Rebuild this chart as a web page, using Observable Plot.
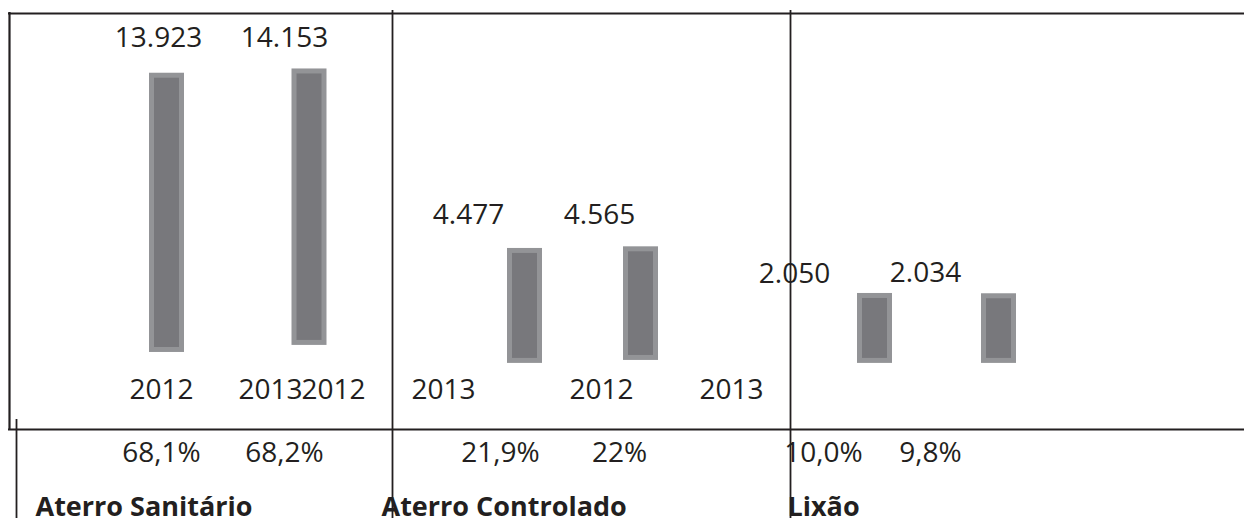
<!DOCTYPE html>
<html><head><meta charset="utf-8">
<script src="https://cdn.jsdelivr.net/npm/d3@7"></script>
<script src="https://cdn.jsdelivr.net/npm/@observablehq/plot@0.6"></script>
<style>html,body{margin:0;padding:0;background:#fff}svg{display:block}</style>
</head><body><div id="chart"></div>
<script>
// ---- data ----
const categories = ["Aterro Sanitário", "Aterro Controlado", "Lixão"];
const years = ["2012", "2013"];
const tonnesPerDay = [13923, 14153, 4477, 4565, 2050, 2034];      // category × year
const valueLabels = ["13.923", "14.153", "4.477", "4.565", "2.050", "2.034"];
const shareLabels = ["68,1%", "68,2%", "21,9%", "22%", "10,0%", "9,8%"];
const yearTickLabels = ["2012", "2013", "2012", "2013", "2012", "2013"];
const barBase = [-1130, -750, -1720, -1560, -1720, -1720];        // lower end of each drawn bar

// ---- layout (horizontal slots, in pixels of the x scale) ----
const W = 1244, H = 518;
const barX = [166.5, 309, 524.5, 640.5, 874.5, 998.5];
const barHalf = 17.5;
const valueLabelX = [158, 284, 468, 599, 794, 925];
const valueLabelRow = [46, 46, 223, 223, 282, 281];
const yearLabelX = [161, 270, 333, 443, 601, 731];
const shareLabelX = [161, 284, 500, 619, 823, 930];
const categoryX = [35, 381, 787];

const yDomain = [-10081, 17844];
const yAt = px => yDomain[0] + (H - px) / H * (yDomain[1] - yDomain[0]);
const ink = "#231f20";
const idx = d3.range(tonnesPerDay.length);

const textRow = (indices, xs, labels, baseline, opts = {}) =>
  Plot.text(indices, {
    x: i => xs[i], y: () => yAt(baseline), text: i => labels[i],
    lineAnchor: "bottom", textAnchor: "middle", fontSize: 28, fill: ink, ...opts
  });

const marks = [
  // bars
  Plot.rect(idx, {
    x1: i => barX[i] - barHalf, x2: i => barX[i] + barHalf,
    y1: i => barBase[i], y2: i => tonnesPerDay[i],
    fill: "#78787c", stroke: "#939497", strokeWidth: 5, inset: 2.5
  }),
  // frame lines
  Plot.ruleY([yAt(13)], {x1: 8, x2: W, stroke: ink, strokeWidth: 2.2}),
  Plot.ruleY([yAt(429)], {x1: 8, x2: W, stroke: ink, strokeWidth: 2.2}),
  Plot.ruleX([9], {y1: yAt(12), y2: yAt(429), stroke: ink, strokeWidth: 2.2}),
  Plot.ruleX([16], {y1: yAt(419), y2: yAt(H), stroke: ink, strokeWidth: 1.8}),
  Plot.ruleX([392, 790], {y1: yAt(10), y2: yAt(H), stroke: ink, strokeWidth: 1.8}),
];
// value labels
for (const i of idx) marks.push(textRow([i], valueLabelX, valueLabels, valueLabelRow[i]));
// year labels
marks.push(textRow(idx, yearLabelX, yearTickLabels, 398));
// share labels
marks.push(textRow(idx, shareLabelX, shareLabels, 461));
// category labels
marks.push(Plot.text(d3.range(categories.length), {
  x: i => categoryX[i], y: () => yAt(515), text: i => categories[i],
  lineAnchor: "bottom", textAnchor: "start", fontSize: 27, fontWeight: "bold", fill: ink
}));

const chart = Plot.plot({
  width: W, height: H,
  margin: 0,
  style: {fontFamily: "'Open Sans', sans-serif", background: "#fff", overflow: "hidden"},
  x: {type: "linear", domain: [0, W], range: [0, W], axis: null},
  y: {type: "linear", domain: yDomain, range: [H, 0], axis: null},
  marks
});
document.getElementById("chart").append(chart);
</script>
</body></html>
